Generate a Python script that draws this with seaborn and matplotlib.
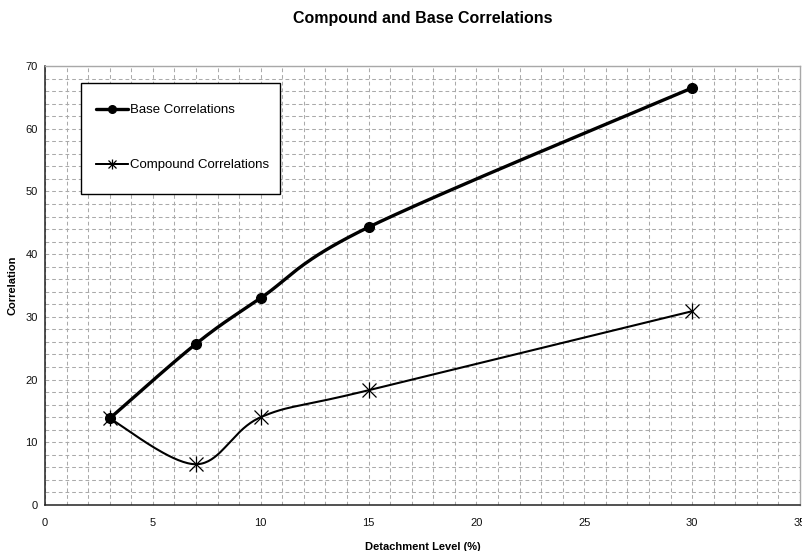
import numpy as np
import pandas as pd
import matplotlib
matplotlib.use("Agg")
import matplotlib.pyplot as plt
from matplotlib.patches import Rectangle
from matplotlib.lines import Line2D
from matplotlib.ticker import MultipleLocator
import seaborn as sns

# Detachment levels (%) and the two correlation series
detachment = [3, 7, 10, 15, 30]
base_corr = [13.8, 25.7, 33.0, 44.3, 66.5]
compound_corr = [13.8, 6.5, 14.0, 18.3, 30.9]

series_names = ["Base Correlations", "Compound Correlations"]
x_ticks = [0, 5, 10, 15, 20, 25, 30, 35]
y_ticks = [0, 10, 20, 30, 40, 50, 60, 70]


def smooth_curve(xs, ys, steps=40):
    """Bezier smoothing through every point (spreadsheet-style smoothed line)."""
    p = np.column_stack([xs, ys]).astype(float)
    ext = np.vstack([p[0], p, p[-1]])
    out = []
    t = np.linspace(0, 1, steps)[:, None]
    for i in range(len(p) - 1):
        p0, p1, p2, p3 = ext[i], ext[i + 1], ext[i + 2], ext[i + 3]
        c1 = p1 + (p2 - p0) / 6.0
        c2 = p2 - (p3 - p1) / 6.0
        seg = ((1 - t) ** 3) * p1 + 3 * ((1 - t) ** 2) * t * c1 \
            + 3 * (1 - t) * t ** 2 * c2 + t ** 3 * p2
        out.append(seg if i == 0 else seg[1:])
    c = np.vstack(out)
    return c[:, 0], c[:, 1]


sns.set_style("white")
plt.rcParams["font.family"] = ["Liberation Sans", "DejaVu Sans"]
plt.rcParams["text.color"] = "black"
plt.rcParams["axes.labelcolor"] = "black"

fig = plt.figure(figsize=(8.02, 5.51), dpi=100)
ax = fig.add_axes([45 / 802, 1 - 505 / 551, 755 / 802, 439 / 551])

# dashed grid on every minor step
ax.set_xlim(0, 35)
ax.set_ylim(0, 70)
ax.xaxis.set_major_locator(MultipleLocator(5))
ax.xaxis.set_minor_locator(MultipleLocator(1))
ax.yaxis.set_major_locator(MultipleLocator(10))
ax.yaxis.set_minor_locator(MultipleLocator(2))
grid_kw = dict(color="#aaaaaa", linewidth=0.75, dashes=(3.6, 2.8))
ax.grid(which="both", axis="both", **grid_kw)
ax.set_axisbelow(True)

# smoothed curves
bx, by = smooth_curve(detachment, base_corr)
cx, cy = smooth_curve(detachment, compound_corr)
curves = pd.concat([
    pd.DataFrame({"x": bx, "y": by, "series": series_names[0]}),
    pd.DataFrame({"x": cx, "y": cy, "series": series_names[1]}),
])
sns.lineplot(data=curves[curves.series == series_names[0]], x="x", y="y",
             color="black", linewidth=2.4, sort=False, ax=ax, legend=False,
             zorder=4)
sns.lineplot(data=curves[curves.series == series_names[1]], x="x", y="y",
             color="black", linewidth=1.5, sort=False, ax=ax, legend=False,
             zorder=4)

# point markers
ax.plot(detachment, base_corr, linestyle="none", marker="o", markersize=7,
        color="black", zorder=5)
ax.plot(detachment, compound_corr, linestyle="none", marker="x",
        markersize=10, markeredgewidth=0.9, color="black", zorder=5)
ax.plot(detachment, compound_corr, linestyle="none", marker="|",
        markersize=12, markeredgewidth=0.9, color="black", zorder=5)

ax.set_xticks(x_ticks)
ax.set_yticks(y_ticks)
ax.tick_params(axis="both", which="major", direction="out", length=2.6,
               width=1, color="black", labelsize=8, labelcolor="#111111")
ax.tick_params(axis="x", which="major", pad=6.5)
ax.tick_params(axis="y", which="major", pad=2.6)
ax.tick_params(axis="both", which="minor", length=0)

for side in ("left", "bottom"):
    ax.spines[side].set_color("#222222")
    ax.spines[side].set_linewidth(1.1)
for side in ("top", "right"):
    ax.spines[side].set_color("#a8a8a8")
    ax.spines[side].set_linewidth(1.0)

ax.set_xlabel("Detachment Level (%)", fontsize=8, fontweight="bold", labelpad=10)
ax.set_ylabel("Correlation", fontsize=8, fontweight="bold", labelpad=6)
ax.set_title("Compound and Base Correlations", fontsize=11.5,
             fontweight="bold", pad=31, color="black")

# legend box
box = Rectangle(((81 - 45) / 755, (505 - 194) / 439), 199 / 755, 111 / 439,
                transform=ax.transAxes, facecolor="white", edgecolor="black",
                linewidth=1.0, zorder=6)
ax.add_patch(box)
h_base = Line2D([], [], color="black", linewidth=2.4, marker="o", markersize=5.5)
h_comp = (Line2D([], [], color="black", linewidth=1.4, marker="x",
                 markersize=6, markeredgewidth=0.9),
          Line2D([], [], color="black", linewidth=1.4, marker="|",
                 markersize=7, markeredgewidth=0.9))
leg = ax.legend([h_base, h_comp], series_names, loc="upper left",
                bbox_to_anchor=((96 - 45) / 755, (505 - 104) / 439),
                frameon=False, fontsize=9.5, borderpad=0, borderaxespad=0,
                labelspacing=3.25, handlelength=2.4, handletextpad=0.15)
leg.set_zorder(7)

fig.savefig("out.png", dpi=100)
